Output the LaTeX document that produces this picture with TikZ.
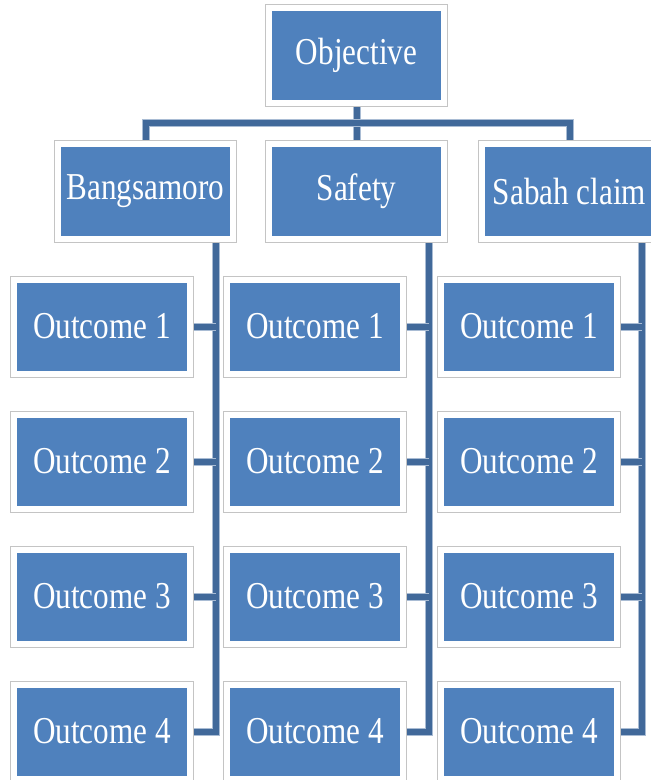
\documentclass[tikz,border=0pt]{standalone}
\usepackage{fontspec}
\setmainfont{Liberation Serif}[FakeStretch=0.82]
\pgfdeclarelayer{background}
\pgfsetlayers{background,main}
\definecolor{boxblue}{HTML}{4F81BD}
\definecolor{connblue}{HTML}{41699A}
\definecolor{connshade}{HTML}{A9BCD4}
\definecolor{framegrey}{HTML}{C4C4C4}
\tikzset{
  box/.style={rectangle, fill=boxblue, draw=white, line width=6pt,
    preaction={draw=framegrey, line width=8pt},
    text=white, inner sep=0pt, align=center,
    font=\fontsize{38}{42}\selectfont},
  topbox/.style={box, minimum width=175pt, minimum height=95pt},
  outbox/.style={box, minimum width=176pt, minimum height=94pt},
  conn/.style={draw=connblue, line width=6pt,
    preaction={draw=connshade, line width=8pt}}
}
\begin{document}
\begin{tikzpicture}[x=1pt,y=-1pt]
\useasboundingbox (0,0) rectangle (651,780);
% level 0 and 1
\node[topbox] (obj) at (356.5,55.5) {Objective};
\node[topbox] (bang) at (145.5,191.5) {Bangsamoro};
\node[topbox] (safe) at (356.5,191.5) {Safety};
\node[topbox] (sabah) at (569.5,191.5) {Sabah claim};
% outcomes
\foreach \c/\x in {1/102,2/315,3/529}{
  \foreach \r/\y in {1/326.5,2/461.5,3/596.5,4/731.5}{
    \node[outbox] (o\c\r) at (\x,\y) {Outcome \r};
  }
}
\coordinate (hub) at (356.5,123);
\coordinate (v1) at (215.5,300);
\coordinate (v2) at (429,300);
\coordinate (v3) at (642,300);
\begin{pgfonlayer}{background}
\draw[conn] (obj.south) -- (safe.north);
\draw[conn] (bang.north) |- (hub) -| (sabah.north);
\draw[conn] (bang.south -| v1) -- (v1 |- o14.east) -- (o14.east);
\draw[conn] (safe.south -| v2) -- (v2 |- o24.east) -- (o24.east);
\draw[conn] (sabah.south -| v3) -- (v3 |- o34.east) -- (o34.east);
\foreach \c in {1,2,3}{
  \foreach \r in {1,2,3}{
    \draw[conn] (o\c\r.east) -- (o\c\r.east -| v\c);
  }
}
\end{pgfonlayer}
\end{tikzpicture}
\end{document}
